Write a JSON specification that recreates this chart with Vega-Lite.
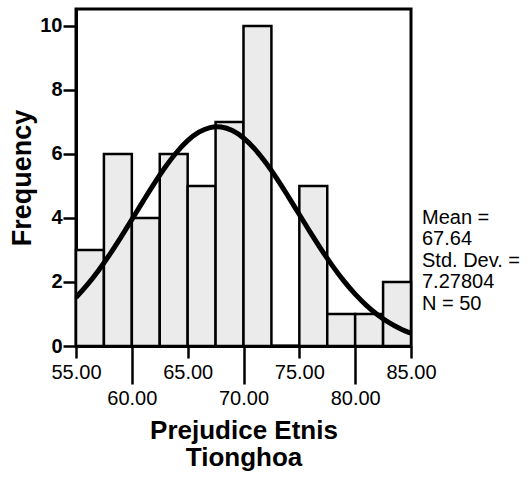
{
  "$schema": "https://vega.github.io/schema/vega-lite/v6.json",
  "autosize": "none",
  "width": 335,
  "height": 337,
  "padding": {"left": 76, "top": 9, "right": 117, "bottom": 131},
  "background": "white",
  "config": {
    "view": {"stroke": "black", "strokeWidth": 3},
    "font": "Liberation Sans"
  },
  "datasets": {
    "bins": [
      {"bin_start": 55.0, "bin_end": 57.5, "count": 3},
      {"bin_start": 57.5, "bin_end": 60.0, "count": 6},
      {"bin_start": 60.0, "bin_end": 62.5, "count": 4},
      {"bin_start": 62.5, "bin_end": 65.0, "count": 6},
      {"bin_start": 65.0, "bin_end": 67.5, "count": 5},
      {"bin_start": 67.5, "bin_end": 70.0, "count": 7},
      {"bin_start": 70.0, "bin_end": 72.5, "count": 10},
      {"bin_start": 72.5, "bin_end": 75.0, "count": 0},
      {"bin_start": 75.0, "bin_end": 77.5, "count": 5},
      {"bin_start": 77.5, "bin_end": 80.0, "count": 1},
      {"bin_start": 80.0, "bin_end": 82.5, "count": 1},
      {"bin_start": 82.5, "bin_end": 85.0, "count": 2}
    ],
    "curve": [
      {"x": 55, "y": 1.5164}, {"x": 56, "y": 1.9071}, {"x": 57, "y": 2.3534},
      {"x": 58, "y": 2.8500}, {"x": 59, "y": 3.3869}, {"x": 60, "y": 3.9495},
      {"x": 61, "y": 4.5191}, {"x": 62, "y": 5.0747}, {"x": 63, "y": 5.5918},
      {"x": 64, "y": 6.0463}, {"x": 65, "y": 6.4156}, {"x": 66, "y": 6.6800},
      {"x": 67, "y": 6.8254}, {"x": 67.64, "y": 6.8518}, {"x": 68, "y": 6.8434},
      {"x": 69, "y": 6.7332}, {"x": 70, "y": 6.5009}, {"x": 71, "y": 6.1592},
      {"x": 72, "y": 5.7264}, {"x": 73, "y": 5.2243}, {"x": 74, "y": 4.6770},
      {"x": 75, "y": 4.1092}, {"x": 76, "y": 3.5426}, {"x": 77, "y": 2.9968},
      {"x": 78, "y": 2.4878}, {"x": 79, "y": 2.0266}, {"x": 80, "y": 1.6201},
      {"x": 81, "y": 1.2708}, {"x": 82, "y": 0.9782}, {"x": 83, "y": 0.7390},
      {"x": 84, "y": 0.5478}, {"x": 85, "y": 0.3984}
    ],
    "stats": [
      {"label": "Mean =\n67.64\nStd. Dev. =\n7.27804\nN = 50"}
    ]
  },
  "layer": [
    {
      "data": {"name": "bins"},
      "mark": {"type": "rect", "fill": "#ebebeb", "stroke": "black", "strokeWidth": 2.5},
      "encoding": {
        "x": {
          "field": "bin_start", "type": "quantitative",
          "scale": {"domain": [55, 85], "nice": false, "zero": false},
          "axis": {
            "values": [55, 60, 65, 70, 75, 80, 85],
            "format": ".2f",
            "grid": false,
            "domainColor": "black", "domainWidth": 3,
            "tickColor": "black", "tickWidth": 2.5,
            "tickSize": {"condition": {"test": "datum.value % 10 == 0", "value": 38}, "value": 12},
            "labelPadding": 4,
            "labelFontSize": 20, "labelColor": "black", "labelFontWeight": "normal",
            "labelFlush": false, "labelOverlap": false,
            "title": ["Prejudice Etnis", "Tionghoa"],
            "titleFontSize": 26, "titleFontWeight": "bold", "titleColor": "black",
            "titleLineHeight": 27, "titlePadding": 9
          }
        },
        "x2": {"field": "bin_end"},
        "y": {
          "field": "count", "type": "quantitative",
          "scale": {"domain": [0, 10.53], "nice": false},
          "axis": {
            "values": [0, 2, 4, 6, 8, 10],
            "grid": false,
            "domainColor": "black", "domainWidth": 3,
            "tickColor": "black", "tickWidth": 2.5, "tickSize": 13,
            "labelPadding": 1,
            "labelFontSize": 20, "labelFontWeight": "bold", "labelColor": "black",
            "title": "Frequency",
            "titleFontSize": 27, "titleFontWeight": "bold", "titleColor": "black",
            "titlePadding": 3
          }
        },
        "y2": {"datum": 0}
      }
    },
    {
      "data": {"name": "curve"},
      "mark": {"type": "line", "stroke": "black", "strokeWidth": 5, "interpolate": "monotone", "clip": true},
      "encoding": {
        "x": {"field": "x", "type": "quantitative"},
        "y": {"field": "y", "type": "quantitative"}
      }
    },
    {
      "data": {"name": "stats"},
      "mark": {"type": "text", "align": "left", "baseline": "top", "fontSize": 20, "lineHeight": 21.5, "lineBreak": "\n", "dx": 11, "color": "black", "clip": false},
      "encoding": {
        "text": {"field": "label"},
        "x": {"datum": 85},
        "y": {"datum": 4.32}
      }
    }
  ]
}
